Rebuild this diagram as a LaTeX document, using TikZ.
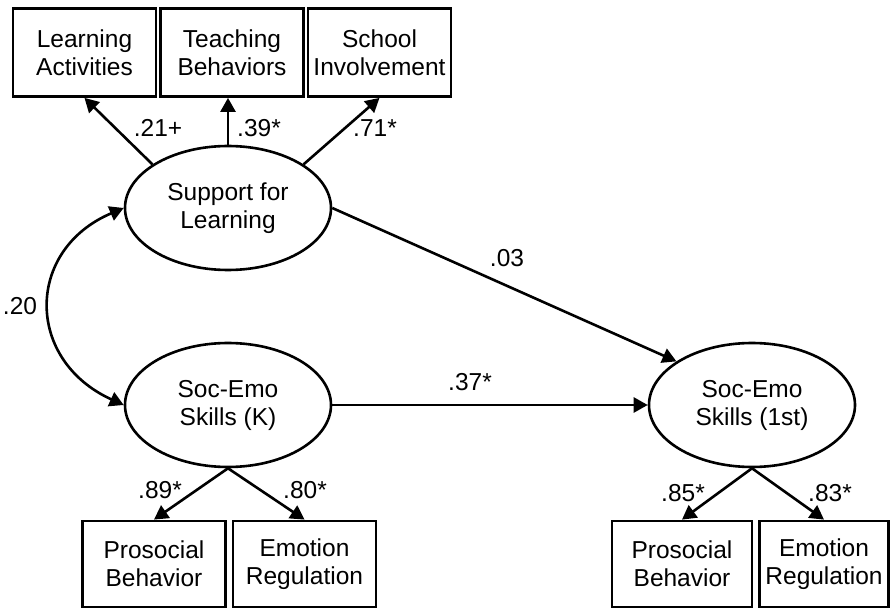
\documentclass[tikz,border=0pt]{standalone}
\usepackage{fontspec}
\setmainfont{Liberation Sans}
\usepackage{tikz}
\usepackage{xcolor}
\usetikzlibrary{arrows.meta,positioning,shapes.geometric}
\definecolor{ink}{HTML}{000000}
\definecolor{paper}{HTML}{FFFFFF}
\tikzset{
  obs/.style={draw=ink, fill=paper, line width=2.8pt, align=center,
              inner sep=0pt, minimum width=143pt, minimum height=88pt,
              font=\fontsize{24.5}{28}\selectfont},
  latent/.style={draw=ink, fill=paper, ellipse, line width=2.6pt, align=center,
                 inner sep=0pt, minimum width=206pt, minimum height=124pt,
                 font=\fontsize{24.5}{28}\selectfont},
  arrow/.style={-{Triangle[length=14pt,width=15pt]}, line width=2.6pt, draw=ink},
  coef/.style={font=\fontsize{24.5}{28}\selectfont, text=ink, inner sep=0pt}
}
\begin{document}
\begin{tikzpicture}[x=1pt,y=-1pt]
  \useasboundingbox (0,0) rectangle (891,609);

  % top indicators
  \node[obs] (la) at (84.5,52.5) {Learning\\Activities};
  \node[obs] (tb) at (232,52.5) {Teaching\\Behaviors};
  \node[obs] (si) at (379.5,52.5) {School\\Involvement};

  % latent factors
  \node[latent] (sup) at (228,208) {Support for\\Learning};
  \node[latent] (sek) at (228,405) {Soc-Emo\\Skills (K)};
  \node[latent] (sef) at (752,405) {Soc-Emo\\Skills (1st)};

  % bottom indicators
  \node[obs,minimum height=86pt] (pbk) at (154,564) {Prosocial\\Behavior};
  \node[obs,minimum height=86pt] (erk) at (304.5,564) {Emotion\\Regulation};
  \node[obs,minimum height=86pt,minimum width=140pt] (pbf) at (682,564) {Prosocial\\Behavior};
  \node[obs,minimum height=86pt,minimum width=129pt] (erf) at (824,564) {Emotion\\Regulation};

  % loadings
  \draw[arrow] (sup.150) -- (la.south);
  \draw[arrow] (sup.north) -- (sup.north |- tb.south);
  \draw[arrow] (sup.30) -- (si.south);
  \draw[arrow] (sek.south) -- (pbk.north);
  \draw[arrow] (sek.south) -- (erk.north);
  \draw[arrow] (sef.south) -- (pbf.north);
  \draw[arrow] (sef.south) -- (erf.north);

  % structural paths
  \draw[arrow] (sup.east) -- (sef.150);
  \draw[arrow] (sek.east) -- (sef.west);
  \draw[arrow,{Triangle[length=14pt,width=15pt]}-{Triangle[length=14pt,width=15pt]}]
    (sup.west) .. controls (25,250) and (25,360) .. (sek.west);

  % coefficients
  \node[coef] (c21) at (158,128) {.21+};
  \node[coef] (c39) at (259,128) {.39*};
  \node[coef] (c71) at (375,128) {.71*};
  \node[coef] (c03) at (507,258) {.03};
  \node[coef] (c20) at (20,306) {.20};
  \node[coef] (c37) at (470,382) {.37*};
  \node[coef] (c89) at (160,490) {.89*};
  \node[coef] (c80) at (305,490) {.80*};
  \node[coef] (c85) at (683,493) {.85*};
  \node[coef] (c83) at (830,493) {.83*};
\end{tikzpicture}
\end{document}
